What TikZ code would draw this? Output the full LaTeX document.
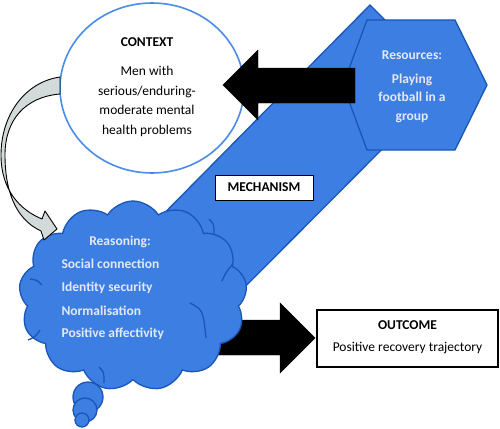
\documentclass[tikz,border=0pt]{standalone}
\usepackage{fontspec}
\setmainfont{Carlito}
\usetikzlibrary{shapes.symbols,shapes.geometric}
\definecolor{fillblue}{HTML}{3D7EE3}
\definecolor{edgeblue}{HTML}{1A56B8}
\definecolor{ringblue}{HTML}{4A8CE6}
\definecolor{paletxt}{HTML}{E4E8F2}
\definecolor{greyarrow}{HTML}{D2DADA}
\tikzset{
  bluefill/.style={fill=fillblue, draw=edgeblue, line width=1.3pt},
  innerarc/.style={draw=edgeblue, line width=1.3pt},
  blockarrow/.style={fill=black, draw=black},
  whitebox/.style={draw=black, fill=white, inner sep=0pt},
  palebold/.style={text=paletxt, font=\fontsize{13.5}{15}\selectfont\bfseries},
  paletext/.style={text=paletxt, font=\fontsize{13.5}{15}\selectfont\bfseries},
}
\begin{document}
\begin{tikzpicture}[x=1pt,y=-1pt, font=\fontsize{13.5}{15}\selectfont]
\useasboundingbox (0,0) rectangle (500,428);
% mechanism band
\path[bluefill] (370,5) -- (448,83) -- (197,335) -- (120,258) -- cycle;
% context circle
\node[ellipse, draw=ringblue, line width=1.6pt, fill=white, minimum width=184pt, minimum height=170pt, inner sep=0pt] (ctx) at (152,88) {};
\node[align=center, font=\fontsize{13.5}{19.5}\selectfont] (ctxtxt) at (147,87) {\textbf{CONTEXT}\\[10pt]Men with\\serious/enduring-\\moderate mental\\health problems};
% resources hexagon
\path[bluefill] (367,20) -- (455,20) -- (487,85) -- (455,150) -- (367,150) -- (343,85) -- cycle;
\node[palebold] (res) at (412,55) {Resources:};
\node[paletext, align=center, font=\fontsize{13.5}{18.5}\selectfont\bfseries] (play) at (412,98) {Playing\\football in a\\group};
% left block arrow
\path[blockarrow] (355,68) -- (258,68) -- (258,50) -- (223,85) -- (258,120) -- (258,103) -- (355,103) -- cycle;
% mechanism label
\node[whitebox, line width=1pt, minimum width=98pt, minimum height=25pt, font=\fontsize{13.5}{15}\selectfont\bfseries] (mech) at (264,187.5) {MECHANISM};
% right block arrow
\path[blockarrow] (200,320) -- (280,320) -- (280,303) -- (315,338) -- (280,373) -- (280,355) -- (200,355) -- cycle;
% reasoning cloud
\node[cloud, cloud puffs=13, cloud puff arc=115, aspect=1.2, bluefill, minimum width=228pt, minimum height=190pt, inner sep=0pt] (cloud) at (133,296) {};
\draw[innerarc] (190,303) .. controls (203,310) .. (206,338);
\draw[innerarc] (99,367) .. controls (104,372) .. (104,383);
\draw[innerarc] (209,219) .. controls (214,224) .. (214,234);
\draw[innerarc] (222,281) .. controls (226,272) .. (233,264);
\draw[innerarc] (30,279) .. controls (37,280) .. (42,285);
\draw[innerarc] (28,340) .. controls (35,337) .. (40,330);
\draw[bluefill] (88,397) circle (15);
\draw[bluefill] (85,410) circle (12);
\draw[bluefill] (82,420) circle (7);
\node[palebold] (reas) at (120,242) {Reasoning:};
\node[paletext, anchor=west] (l1) at (58,264) {Social connection};
\node[paletext, anchor=west] (l2) at (58,288) {Identity security};
\node[paletext, anchor=west] (l3) at (58,311) {Normalisation};
\node[paletext, anchor=west] (l4) at (58,334) {Positive affectivity};
% grey curved arrow
\draw[fill=greyarrow, line width=0.9pt, line join=round] (60,77) .. controls (25,82) and (1,115) .. (1,155) .. controls (1,190) and (20,210) .. (42,219) -- (45,211) -- (57,229) -- (44,240) -- (41,231) .. controls (15,219) and (5,190) .. (5,155) .. controls (5,120) and (25,97) .. (60,94) -- cycle;
% outcome box
\node[whitebox, line width=1.8pt, minimum width=181pt, minimum height=57pt] (out) at (407.5,338.5) {};
\node[font=\fontsize{13.5}{15}\selectfont\bfseries] (outt) at (407.5,325) {OUTCOME};
\node (outs) at (407.5,348) {Positive recovery trajectory};
\end{tikzpicture}
\end{document}
